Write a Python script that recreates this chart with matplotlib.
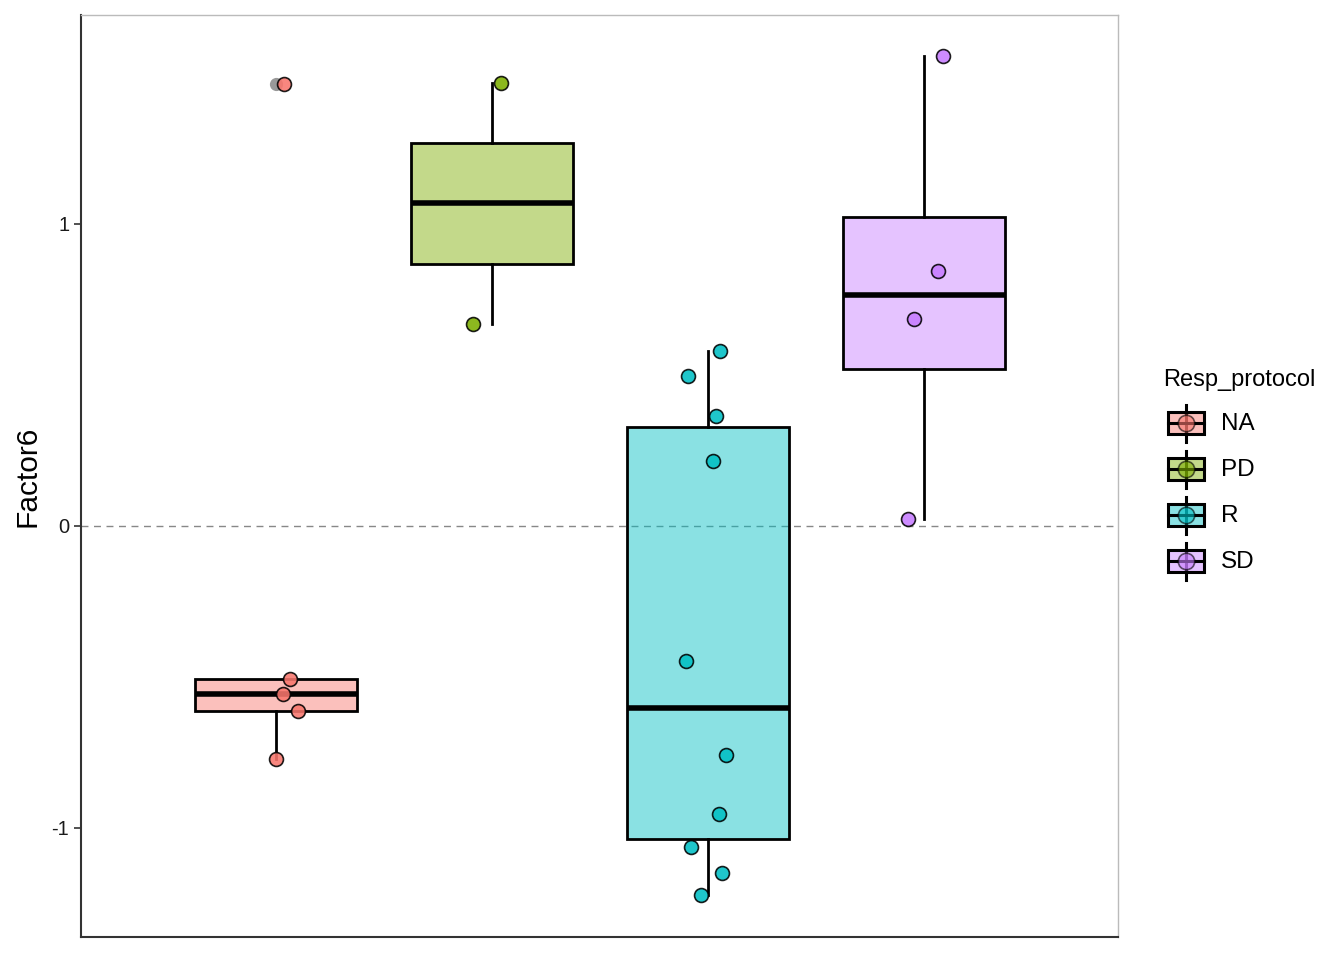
import numpy as np
import matplotlib
matplotlib.use('Agg')
import matplotlib.pyplot as plt
import matplotlib.patches as mpatches

plt.rcParams['font.family'] = ['Liberation Sans', 'DejaVu Sans']

# data
groups = ['NA', 'PD', 'R', 'SD']
colors = ['#F8766D', '#7CAE00', '#00BFC4', '#C77CFF']
na_vals = [1.464, -0.507, -0.556, -0.613, -0.772]
pd_vals = [1.467, 0.669]
r_vals = [0.497, 0.579, 0.364, 0.215, -0.447, -0.758, -0.954, -1.063, -1.149, -1.222]
sd_vals = [1.556, 0.844, 0.685, 0.023]
# jitter offsets (x units) as seen in the picture
na_jit = [0.037, 0.065, 0.032, 0.102, 0.0]
pd_jit = [0.042, -0.088]
r_jit = [-0.093, 0.056, 0.037, 0.023, -0.102, 0.083, 0.051, -0.079, 0.065, -0.032]
sd_jit = [0.088, 0.065, -0.046, -0.074]

values = [na_vals, pd_vals, r_vals, sd_vals]
jitters = [na_jit, pd_jit, r_jit, sd_jit]
positions = np.arange(1, len(groups) + 1)

fig = plt.figure(figsize=(13.44, 9.6), dpi=100)
ax = fig.add_axes([81/1344, 1-937/960, (1118-81)/1344, (937-15)/960])

ax.axhline(0, color='#888888', lw=1, ls=(0, (5, 4)), zorder=0)

bp = ax.boxplot(values, positions=positions, widths=0.75, whis=1.5,
                patch_artist=True, showcaps=False,
                flierprops=dict(marker='o', markerfacecolor='#555555', markeredgecolor='none',
                                markersize=9.5, alpha=0.6),
                medianprops=dict(color='black', lw=4),
                whiskerprops=dict(color='black', lw=2),
                boxprops=dict(lw=2))
for patch, c in zip(bp['boxes'], colors):
    patch.set_facecolor(matplotlib.colors.to_rgba(c, 0.46))
    patch.set_edgecolor('black')

for pos, vals, jit, c in zip(positions, values, jitters, colors):
    ax.scatter(pos + np.array(jit), vals, s=100, color=c, edgecolor='black',
               linewidth=1.2, alpha=0.88, zorder=4)

ax.set_xlim(0.097, 4.898)
ax.set_ylim(-1.361, 1.692)
ax.set_xticks([])
ax.set_yticks([-1, 0, 1])
ax.set_yticklabels(['-1', '0', '1'])
ax.tick_params(axis='y', labelsize=14.5, length=5, width=1.2, color='#333333', labelcolor='#1a1a1a')
ax.set_ylabel('Factor6', fontsize=21.5, labelpad=7)
for s in ['left', 'bottom']:
    ax.spines[s].set_color('#333333')
    ax.spines[s].set_linewidth(1.5)
for s in ['top', 'right']:
    ax.spines[s].set_color('#bbbbbb')
    ax.spines[s].set_linewidth(1)

# legend drawn in pixel coordinates
lax = fig.add_axes([1150/1344, 0, 194/1344, 1])
lax.set_xlim(1150, 1344)
lax.set_ylim(960, 0)
lax.axis('off')
lax.text(1163, 380, 'Resp_protocol', fontsize=17, va='center', ha='left')
for i, (g, c) in enumerate(zip(groups, colors)):
    yc = 423 + i * 46
    lax.plot([1186, 1186], [yc - 18, yc + 19], color='black', lw=2.2, zorder=1)
    lax.add_patch(mpatches.Rectangle((1168, yc - 11), 36, 22, facecolor=matplotlib.colors.to_rgba(c, 0.46),
                                     edgecolor='black', lw=2.2, zorder=2))
    lax.plot([1168, 1204], [yc, yc], color='black', lw=2.2, zorder=3)
    lax.scatter([1186], [yc], s=140, color=c, edgecolor='black', linewidth=1.2, alpha=0.6, zorder=4)
    lax.text(1221, yc + 1, g, fontsize=17.5, va='center', ha='left')

fig.savefig('out.png', dpi=100)
